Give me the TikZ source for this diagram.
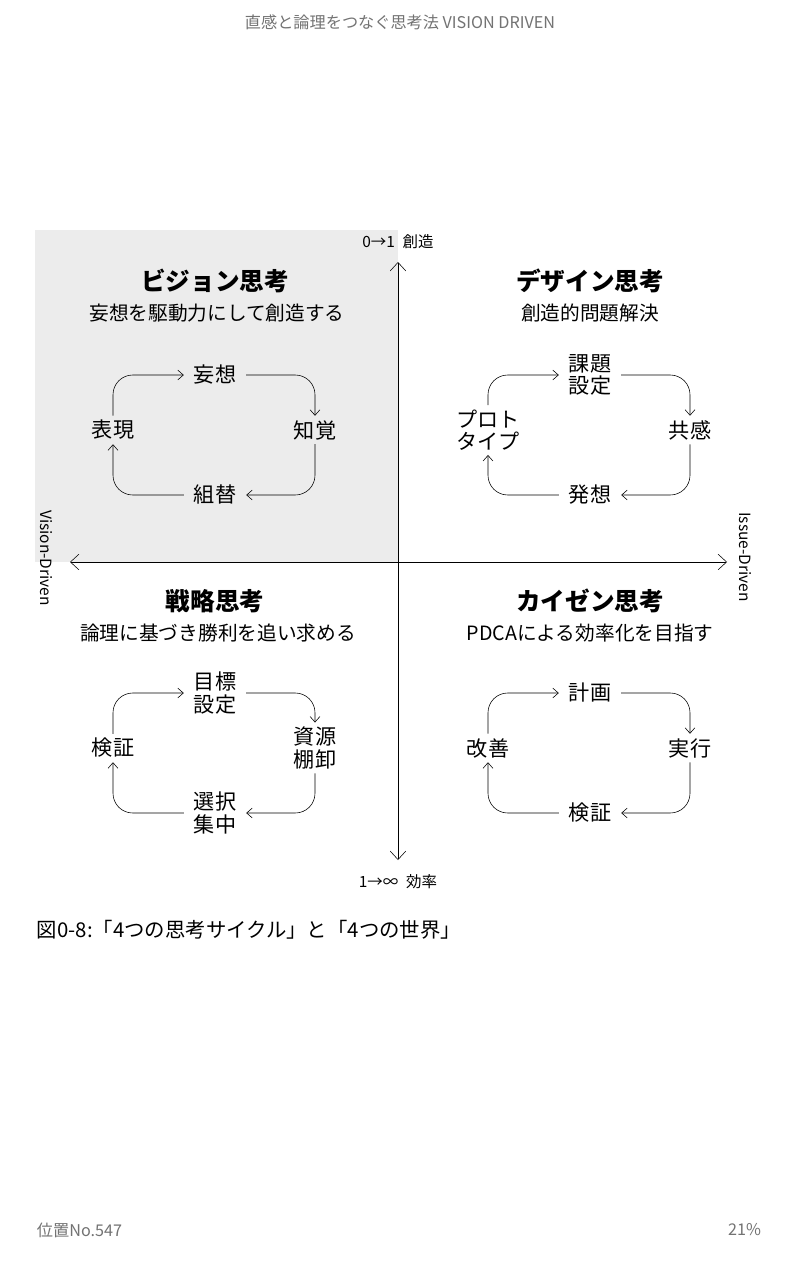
\documentclass[tikz,border=0pt]{standalone}
\usepackage{fontspec}
\setmainfont{Noto Sans CJK JP}
\usetikzlibrary{arrows.meta,positioning}
\definecolor{headgray}{gray}{0.45}
\definecolor{boxgray}{gray}{0.925}
\tikzset{
  word/.style={font=\fontsize{15}{16}\selectfont, align=center, inner xsep=7pt, inner ysep=3pt},
  title/.style={font=\fontsize{17.5}{19}\selectfont\bfseries},
  subtitle/.style={font=\fontsize{14}{15}\selectfont},
  cyc/.style={-{Straight Barb[length=4pt,width=7pt]}, thin, rounded corners=14},
  axis/.style={{Straight Barb[length=6pt,width=11pt]}-{Straight Barb[length=6pt,width=11pt]}, thin},
  small/.style={font=\fontsize{11}{12}\selectfont}
}
% one cycle of four words around (#1,#2)
\newcommand{\thinkcycle}[6]{%
  \node[word] (T#1#2) at (#1,#2-55) {#3};
  \node[word] (R#1#2) at (#1+100,#2) {#4};
  \node[word] (B#1#2) at (#1,#2+65) {#5};
  \node[word] (L#1#2) at (#1-102,#2) {#6};
  \draw[cyc] (L#1#2.north) |- (T#1#2.west);
  \draw[cyc] (T#1#2.east) -| (R#1#2.north);
  \draw[cyc] (R#1#2.south) |- (B#1#2.east);
  \draw[cyc] (B#1#2.west) -| (L#1#2.south);
}
\begin{document}
\begin{tikzpicture}[x=0.025cm,y=-0.025cm]
  \useasboundingbox[fill=white] (0,0) rectangle (800,1280);

  % header
  \node[headgray, font=\fontsize{11.5}{12}\selectfont] (head) at (400,22) {直感と論理をつなぐ思考法 VISION DRIVEN};

  % vision quadrant background
  \fill[boxgray] (35,230) rectangle (398,562);

  % axes
  \node[small] (top) at (398,242) {0→1\; 創造};
  \node[small] (bottom) at (398,882) {1→∞\; 効率};
  \coordinate (ytop) at (398,262);
  \coordinate (ybot) at (398,860);
  \coordinate (xleft) at (70,562);
  \coordinate (xright) at (727,562);
  \draw[axis] (ytop) -- (ybot);
  \draw[axis] (xleft) -- (xright);
  \node[small, rotate=-90] (vd) at (46,558) {Vision-Driven};
  \node[small, rotate=-90] (id) at (745,557) {Issue-Driven};

  % quadrant titles
  \node[title] (q1) at (215,281) {ビジョン思考};
  \node[subtitle] (s1) at (217,313) {妄想を駆動力にして創造する};
  \node[title] (q2) at (590,281) {デザイン思考};
  \node[subtitle] (s2) at (590,313) {創造的問題解決};
  \node[title] (q3) at (215,601) {戦略思考};
  \node[subtitle] (s3) at (218,633) {論理に基づき勝利を追い求める};
  \node[title] (q4) at (590,601) {カイゼン思考};
  \node[subtitle] (s4) at (590,633) {PDCAによる効率化を目指す};

  % cycles
  \thinkcycle{215}{430}{妄想}{知覚}{組替}{表現}
  \thinkcycle{590}{430}{課題\\設定}{共感}{発想}{プロト\\タイプ}
  \thinkcycle{215}{748}{目標\\設定}{資源\\棚卸}{選択\\集中}{検証}
  \thinkcycle{590}{748}{計画}{実行}{検証}{改善}

  % caption and footer
  \node[anchor=west, font=\fontsize{14.5}{16}\selectfont] (cap) at (32,930) {図0-8:「4つの思考サイクル」と「4つの世界」};
  \node[anchor=west, headgray, font=\fontsize{11.5}{12}\selectfont] (pos) at (32,1230) {位置No.547};
  \node[anchor=east, headgray, font=\fontsize{11.5}{12}\selectfont] (pct) at (766,1230) {21\%};
\end{tikzpicture}
\end{document}
